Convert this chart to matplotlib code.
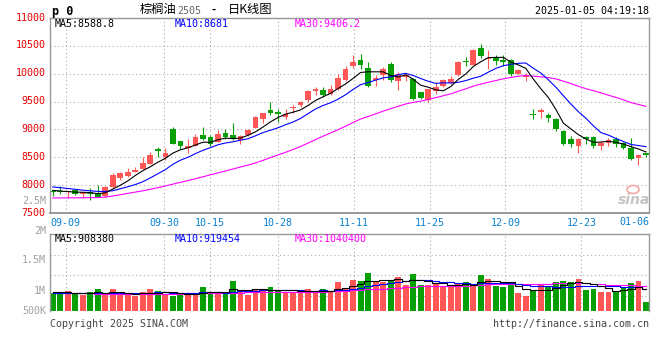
import matplotlib
matplotlib.use("Agg")
import matplotlib.pyplot as plt
import matplotlib.transforms as mtransforms
from matplotlib.patches import Ellipse
import numpy as np
import pandas as pd

# ---------------- data ----------------
dates = ["09-05", "09-06", "09-09", "09-10", "09-11", "09-12", "09-13", "09-18", "09-19", "09-20",
         "09-23", "09-24", "09-25", "09-26", "09-27", "09-30", "10-08", "10-09", "10-10", "10-11",
         "10-14", "10-15", "10-16", "10-17", "10-18", "10-21", "10-22", "10-23", "10-24", "10-25",
         "10-28", "10-29", "10-30", "10-31", "11-01", "11-04", "11-05", "11-06", "11-07", "11-08",
         "11-11", "11-12", "11-13", "11-14", "11-15", "11-18", "11-19", "11-20", "11-21", "11-22",
         "11-25", "11-26", "11-27", "11-28", "11-29", "12-02", "12-03", "12-04", "12-05", "12-06",
         "12-09", "12-10", "12-11", "12-12", "12-13", "12-16", "12-17", "12-18", "12-19", "12-20",
         "12-23", "12-24", "12-25", "12-26", "12-27", "12-30", "12-31", "01-02", "01-03", "01-06"]

opens = [7900, 7900, 7870, 7910, 7840, 7880, 7850, 7800, 7960, 8120,
         8160, 8240, 8290, 8380, 8650, 8500, 9000, 8790, 8670, 8710,
         8900, 8870, 8770, 8935, 8900, 8810, 8900, 9025, 9190, 9350,
         9315, 9226, 9393, 9433, 9523, 9695, 9700, 9630, 9720, 9896,
         10134, 10252, 10110, 9896, 9973, 10181, 9866, 9938, 9908, 9671,
         9523, 9689, 9778, 9837, 9973, 10234, 10163, 10460, 10264, 10294,
         10240, 10252, 9997, 9944, 9285, 9321, 9256, 9196, 8977, 8828,
         8710, 8858, 8858, 8710, 8757, 8828, 8751, 8668, 8484, 8570]
highs = [7920, 7990, 7900, 7920, 7880, 7950, 8000, 7980, 8210, 8230,
         8300, 8330, 8500, 8590, 8680, 8660, 9040, 8790, 8830, 8920,
         9050, 8900, 8990, 9006, 9113, 8900, 9010, 9240, 9300, 9490,
         9375, 9362, 9440, 9510, 9706, 9766, 9766, 9790, 9997, 10134,
         10341, 10359, 10217, 9985, 10122, 10205, 10027, 10015, 9926, 9680,
         9718, 9849, 9900, 9967, 10220, 10300, 10440, 10537, 10430, 10330,
         10341, 10260, 10080, 10015, 9362, 9392, 9291, 9200, 8990, 8876,
         8840, 8876, 8888, 8793, 8840, 8858, 8780, 8840, 8555, 8580]
lows = [7800, 7850, 7770, 7830, 7770, 7730, 7780, 7780, 7950, 8100,
        8150, 8230, 8290, 8380, 8500, 8455, 8730, 8650, 8570, 8710,
        8810, 8710, 8770, 8830, 8810, 8740, 8880, 9020, 9110, 9255,
        9137, 9196, 9303, 9410, 9493, 9624, 9582, 9610, 9700, 9878,
        10104, 10086, 9766, 9778, 9896, 9849, 9700, 9878, 9523, 9550,
        9493, 9630, 9760, 9820, 9960, 10134, 10150, 10282, 10092, 10152,
        10134, 9955, 9990, 9866, 9196, 9214, 9137, 8977, 8728, 8680,
        8580, 8740, 8668, 8638, 8698, 8680, 8650, 8455, 8366, 8508]
closes = [7870, 7880, 7890, 7850, 7870, 7840, 7780, 7970, 8190, 8210,
          8230, 8270, 8400, 8540, 8615, 8580, 8740, 8700, 8710, 8870,
          8830, 8740, 8920, 8858, 8830, 8876, 8990, 9230, 9290, 9290,
          9273, 9285, 9410, 9493, 9690, 9720, 9617, 9720, 9932, 10092,
          10217, 10152, 9778, 9932, 10092, 9896, 10003, 9973, 9540, 9558,
          9718, 9766, 9885, 9914, 10205, 10205, 10430, 10323, 10282, 10223,
          10210, 10003, 10074, 9967, 9262, 9345, 9214, 9006, 8740, 8740,
          8828, 8828, 8710, 8757, 8810, 8740, 8674, 8472, 8550, 8540]
volumes = [754, 700, 823, 686, 658, 782, 905, 658, 905, 658,
           658, 631, 782, 905, 823, 700, 631, 700, 727, 741,
           988, 727, 741, 768, 1235, 864, 658, 905, 823, 988,
           864, 796, 754, 754, 905, 823, 905, 809, 1180, 960,
           1276, 1235, 1564, 1180, 1207, 1276, 1399, 1070, 1523, 1070,
           1070, 1125, 1001, 1001, 1152, 1193, 1097, 1481, 1317, 1042,
           988, 1097, 741, 617, 837, 1111, 1042, 1193, 1235, 1193,
           1317, 864, 905, 782, 782, 796, 988, 1152, 1235, 370]
volumes = [v * 1000 for v in volumes]

# moving-average values before enough in-window history exists
ma5_head = [7905, 7895, 7885, 7875]
ma10_head = [7968, 7955, 7940, 7925, 7910, 7898, 7888, 7886, 7900]
ma30_head = [7770, 7771, 7772, 7773, 7774, 7775, 7777, 7785, 7805, 7828,
             7852, 7875, 7898, 7925, 7955, 7985, 8018, 8050, 8082, 8115,
             8150, 8185, 8220, 8255, 8290, 8325, 8360, 8400, 8445]
vma5_head = [790000, 780000, 770000, 745000]
vma10_head = [740000, 735000, 730000, 728000, 725000, 722000, 728000, 735000, 745000]
vma30_head = [725000, 725000, 725000, 725000, 725000, 722000, 718000, 700000, 690000, 688000,
              688000, 690000, 692000, 698000, 705000, 710000, 715000, 720000, 725000, 730000,
              735000, 740000, 745000, 750000, 755000, 760000, 765000, 770000, 776000]

tick_dates = ["09-09", "09-30", "10-15", "10-28", "11-11", "11-25", "12-09", "12-23"]
last_label = "01-06"
price_ticks = [7500, 8000, 8500, 9000, 9500, 10000, 10500, 11000]
legend_price = ["MA5:8588.8", "MA10:8681", "MA30:9406.2"]
legend_vol = ["MA5:908380", "MA10:919454", "MA30:1040400"]
vol_labels = ["2M", "1.5M", "1M", "500K"]

# ---------------- derived ----------------
def moving(series, n, head):
    m = pd.Series(series, dtype=float).rolling(n).mean().to_numpy()
    m[:len(head)] = head
    return m

ma5 = moving(closes, 5, ma5_head)
ma10 = moving(closes, 10, ma10_head)
ma30 = moving(closes, 30, ma30_head)
vma5 = moving(volumes, 5, vma5_head)
vma10 = moving(volumes, 10, vma10_head)
vma30 = moving(volumes, 30, vma30_head)

RED = "#ff5656"
GREEN = "#06a006"
GRID = "#ababab"
SPINE = "#999999"
MONO = "DejaVu Sans Mono"
FS = 7.2
LW = 0.8

x = np.arange(len(dates))
o = np.array(opens, float); c = np.array(closes, float)
h = np.array(highs, float); l = np.array(lows, float)
up = c >= o
cols = [RED if u else GREEN for u in up]

W, H = 660, 360
fig = plt.figure(figsize=(6.6, 3.6), dpi=100)
fig.patch.set_facecolor("white")

def rect(x0, y0, x1, y1):
    return [x0 / W, 1 - y1 / H, (x1 - x0) / W, (y1 - y0) / H]

ax = fig.add_axes(rect(50, 18, 649.3, 213))
axv = fig.add_axes(rect(50, 234.3, 649.3, 311))

xlim = (-0.36, 79.44)
grid_idx = np.array([dates.index(d) for d in tick_dates], float)
grid_pos = grid_idx - 0.29 + 0.0097 * grid_idx

# ---- price panel ----
ax.vlines(x, l, h, colors=cols, lw=0.8, zorder=2)
body_bottom = np.minimum(o, c)
body_h = np.maximum(np.abs(c - o), 16)
ax.bar(x, body_h, bottom=body_bottom, width=0.76, color=cols, lw=0, zorder=2)
ax.plot(x, ma30, color="#ff00ff", lw=LW, zorder=3)
ax.plot(x, ma10, color="#0000ff", lw=LW, zorder=3)
ax.plot(x, ma5, color="black", lw=LW, zorder=3)
ax.set_xlim(*xlim)
ax.set_ylim(7500, 11000)
ax.set_yticks(price_ticks)
ax.set_yticklabels([str(t) for t in price_ticks], family=MONO, fontsize=FS, color="#e60000")
ax.set_xticks(grid_pos)
ax.set_xticklabels(tick_dates, family=MONO, fontsize=FS, color="#0a80d0")
ax.tick_params(axis="both", length=0)
ax.tick_params(axis="y", pad=3)
ax.tick_params(axis="x", pad=3.5)
shift = mtransforms.ScaledTranslation(0, 1.5 / 100, fig.dpi_scale_trans)
for lab in ax.get_yticklabels():
    lab.set_transform(lab.get_transform() + shift)
ax.grid(True, color=GRID, lw=0.8, linestyle=(0, (1, 2.5)), zorder=0)
for s in ax.spines.values():
    s.set_color(SPINE); s.set_linewidth(1.0)
ax.spines["bottom"].set_linewidth(1.4)
ax.text(1.0, -0.02, last_label, transform=ax.transAxes, ha="right", va="top",
        family=MONO, fontsize=FS, color="#0a80d0")

# legends inside price panel
for txt, xp, col in zip(legend_price, [55, 175, 295], ["black", "#0000ff", "#ff00ff"]):
    fig.text(xp / W, 1 - 24 / H, txt, family=MONO, fontsize=FS, color=col, va="center", ha="left")
fig.text(46 / W, 1 - 200.5 / H, "2.5M", family=MONO, fontsize=FS, color="#a0a0a0", va="center", ha="right")

# sina watermark
fig.text(634 / W, 1 - 200 / H, "sina", family="DejaVu Sans", fontsize=10, fontweight="bold",
         style="italic", color="#c4c4c4", ha="center", va="center")
fig.add_artist(Ellipse((633 / W, 1 - 189.5 / H), 12 / W, 8 / H, transform=fig.transFigure,
                       fill=False, ec="#f2a8a8", lw=1.2))

# ---- header ----
fig.text(52 / W, 1 - 11 / H, "p 0", family=MONO, fontsize=8.5, fontweight="bold", color="black",
         va="center", ha="left")
fig.text(140 / W, 1 - 10 / H, "棕榈油", family=["Noto Sans CJK SC", "DejaVu Sans"], fontsize=8.8,
         color="black", va="center", ha="left")
fig.text(177 / W, 1 - 10.5 / H, "2505", family=MONO, fontsize=FS, color="#666666", va="center", ha="left")
fig.text(211 / W, 1 - 10 / H, "-", family=MONO, fontsize=FS, fontweight="bold", color="black",
         va="center", ha="left")
fig.text(228 / W, 1 - 10 / H, "日K线图", family=["Noto Sans CJK SC", "DejaVu Sans"], fontsize=8.8,
         color="black", va="center", ha="left")
fig.text(649 / W, 1 - 11.2 / H, "2025-01-05 04:19:18", family=MONO, fontsize=FS, color="black",
         va="center", ha="right")

# ---- volume panel ----
axv.bar(x, volumes, width=0.77, color=cols, lw=0, zorder=2)
axv.plot(x, vma30, color="#ff00ff", lw=LW, drawstyle="steps-mid", zorder=3)
axv.plot(x, vma10, color="#0000ff", lw=LW, drawstyle="steps-mid", zorder=3)
axv.plot(x, vma5, color="black", lw=LW, drawstyle="steps-mid", zorder=3)
axv.set_xlim(*xlim)
vtop = 76.7 / 24.3 * 1e6
axv.set_ylim(0, vtop)
grid_y_px = [255, 275, 295.7]
axv.set_yticks([(311 - p) / 24.3 * 1e6 for p in grid_y_px])
axv.set_yticklabels([])
axv.set_xticks(grid_pos)
axv.set_xticklabels([])
axv.tick_params(axis="both", length=0)
axv.grid(True, color=GRID, lw=0.8, linestyle=(0, (1, 2.5)), zorder=0)
for name, s in axv.spines.items():
    s.set_color(SPINE); s.set_linewidth(1.0)
axv.spines["bottom"].set_visible(False)

for txt, yp in zip(vol_labels, [231, 260, 291, 311]):
    fig.text(46 / W, 1 - yp / H, txt, family=MONO, fontsize=FS, color="#a0a0a0", va="center", ha="right")
for txt, xp, col in zip(legend_vol, [55, 175, 295], ["black", "#0000ff", "#ff00ff"]):
    fig.text(xp / W, 1 - 239.5 / H, txt, family=MONO, fontsize=FS, color=col, va="center", ha="left")

fig.text(50 / W, 1 - 324 / H, "Copyright 2025 SINA.COM", family=MONO, fontsize=FS, color="#444444",
         va="center", ha="left")
fig.text(649 / W, 1 - 324 / H, "http://finance.sina.com.cn", family=MONO, fontsize=FS, color="#444444",
         va="center", ha="right")

fig.savefig("out.png", dpi=100, facecolor="white")
